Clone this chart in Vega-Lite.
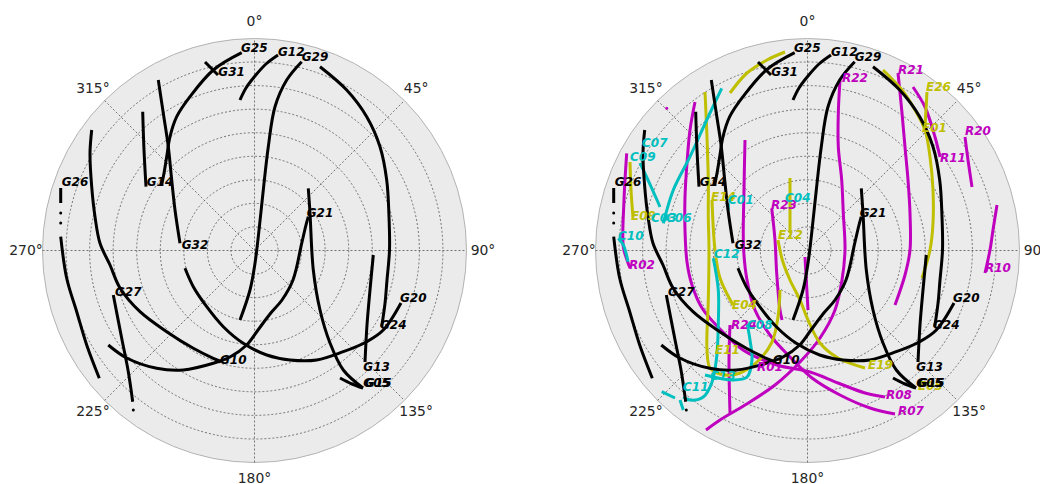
{
"$schema": "https://vega.github.io/schema/vega-lite/v6.json",
"padding": 0,
"background": "white",
"spacing": 44,
"bounds": "flush",
"config": {"view": {"stroke": null}},
"datasets": {
"rings": [{"e":0,"n":0,"r":23.56},{"e":0,"n":0,"r":47.11},{"e":0,"n":0,"r":70.67},{"e":0,"n":0,"r":94.22},{"e":0,"n":0,"r":117.78},{"e":0,"n":0,"r":141.33},{"e":0,"n":0,"r":164.89},{"e":0,"n":0,"r":188.44}],
"disk": [{"e":0,"n":0,"r":212}],
"spokes": [{"e":-212,"n":0,"e2":212,"n2":0},{"e":0,"n":-212,"e2":0,"n2":212},{"e":-149.9,"n":-149.9,"e2":149.9,"n2":149.9},{"e":-149.9,"n":149.9,"e2":149.9,"n2":-149.9}],
"angles": [{"t":"0°","e":0,"n":228.5},{"t":"45°","e":161.6,"n":161.6},{"t":"90°","e":228.5,"n":0},{"t":"135°","e":161.6,"n":-161.6},{"t":"180°","e":0,"n":-228.5},{"t":"225°","e":-161.6,"n":-161.6},{"t":"270°","e":-228.5,"n":0},{"t":"315°","e":-161.6,"n":161.6}],
"tracks": [
{"id":"G31","sys":"G","i":0,"e":-49.5,"n":188.5},{"id":"G31","sys":"G","i":1,"e":-36.5,"n":175.5},
{"id":"G25","sys":"G","i":0,"e":-92.8,"n":65.5},{"id":"G25","sys":"G","i":1,"e":-90.5,"n":77.2},{"id":"G25","sys":"G","i":2,"e":-87.8,"n":93.8},{"id":"G25","sys":"G","i":3,"e":-84.5,"n":113.8},{"id":"G25","sys":"G","i":4,"e":-77.8,"n":133.8},{"id":"G25","sys":"G","i":5,"e":-64.5,"n":153.8},{"id":"G25","sys":"G","i":6,"e":-41.2,"n":180.5},{"id":"G25","sys":"G","i":7,"e":-12.8,"n":197.8},
{"id":"G14","sys":"G","i":0,"e":-111.8,"n":138.8},{"id":"G14","sys":"G","i":1,"e":-110.5,"n":100.5},{"id":"G14","sys":"G","i":2,"e":-108.5,"n":63.8},
{"id":"G32","sys":"G","i":0,"e":-96.2,"n":170.5},{"id":"G32","sys":"G","i":1,"e":-91.2,"n":137.2},{"id":"G32","sys":"G","i":2,"e":-86.2,"n":103.8},{"id":"G32","sys":"G","i":3,"e":-82.8,"n":70.5},{"id":"G32","sys":"G","i":4,"e":-79.5,"n":40.5},{"id":"G32","sys":"G","i":5,"e":-74.5,"n":7.2},
{"id":"G26a","sys":"G","i":0,"e":-193.8,"n":62.5},{"id":"G26a","sys":"G","i":1,"e":-193.8,"n":47.5},
{"id":"G26b","sys":"G","i":0,"e":-193.8,"n":13.8},{"id":"G26b","sys":"G","i":1,"e":-187.8,"n":-27.8},{"id":"G26b","sys":"G","i":2,"e":-177.8,"n":-61.2},{"id":"G26b","sys":"G","i":3,"e":-167.8,"n":-94.5},{"id":"G26b","sys":"G","i":4,"e":-155.2,"n":-127.8},
{"id":"G10","sys":"G","i":0,"e":-162.8,"n":120.5},{"id":"G10","sys":"G","i":1,"e":-164.5,"n":97.2},{"id":"G10","sys":"G","i":2,"e":-162.8,"n":63.8},{"id":"G10","sys":"G","i":3,"e":-159.5,"n":33.8},{"id":"G10","sys":"G","i":4,"e":-154.5,"n":7.2},{"id":"G10","sys":"G","i":5,"e":-144.5,"n":-14.5},{"id":"G10","sys":"G","i":6,"e":-134.5,"n":-37.5},{"id":"G10","sys":"G","i":7,"e":-114.5,"n":-61.2},{"id":"G10","sys":"G","i":8,"e":-87.8,"n":-81.2},{"id":"G10","sys":"G","i":9,"e":-61.2,"n":-97.8},{"id":"G10","sys":"G","i":10,"e":-41.2,"n":-107.8},{"id":"G10","sys":"G","i":11,"e":-32.8,"n":-111.2},
{"id":"G21","sys":"G","i":0,"e":-146.2,"n":-94.5},{"id":"G21","sys":"G","i":1,"e":-127.8,"n":-107.5},{"id":"G21","sys":"G","i":2,"e":-97.8,"n":-117.8},{"id":"G21","sys":"G","i":3,"e":-71.2,"n":-119.5},{"id":"G21","sys":"G","i":4,"e":-41.2,"n":-112.8},{"id":"G21","sys":"G","i":5,"e":-24.5,"n":-106.5},{"id":"G21","sys":"G","i":6,"e":-7.8,"n":-94.5},{"id":"G21","sys":"G","i":7,"e":3.5,"n":-79.5},{"id":"G21","sys":"G","i":8,"e":15.5,"n":-63.5},{"id":"G21","sys":"G","i":9,"e":27.5,"n":-49.5},{"id":"G21","sys":"G","i":10,"e":38.5,"n":-29.5},{"id":"G21","sys":"G","i":11,"e":47.2,"n":7.2},{"id":"G21","sys":"G","i":12,"e":51.5,"n":25.5},{"id":"G21","sys":"G","i":13,"e":53.8,"n":33.8},
{"id":"G27","sys":"G","i":0,"e":-141.2,"n":-44.5},{"id":"G27","sys":"G","i":1,"e":-132.8,"n":-87.8},{"id":"G27","sys":"G","i":2,"e":-126.2,"n":-121.2},{"id":"G27","sys":"G","i":3,"e":-121.8,"n":-151.2},
{"id":"G20","sys":"G","i":0,"e":-69.5,"n":-17.8},{"id":"G20","sys":"G","i":1,"e":-61.2,"n":-36.2},{"id":"G20","sys":"G","i":2,"e":-47.8,"n":-56.2},{"id":"G20","sys":"G","i":3,"e":-31.2,"n":-76.2},{"id":"G20","sys":"G","i":4,"e":-11.2,"n":-92.8},{"id":"G20","sys":"G","i":5,"e":12.2,"n":-104.5},{"id":"G20","sys":"G","i":6,"e":35.5,"n":-109.5},{"id":"G20","sys":"G","i":7,"e":62.2,"n":-109.5},{"id":"G20","sys":"G","i":8,"e":88.8,"n":-101.2},{"id":"G20","sys":"G","i":9,"e":112.2,"n":-91.2},{"id":"G20","sys":"G","i":10,"e":128.8,"n":-79.5},{"id":"G20","sys":"G","i":11,"e":146.5,"n":-52.5},
{"id":"G12","sys":"G","i":0,"e":23.5,"n":195.5},{"id":"G12","sys":"G","i":1,"e":11.5,"n":186.5},{"id":"G12","sys":"G","i":2,"e":0.5,"n":174.5},{"id":"G12","sys":"G","i":3,"e":-8.5,"n":162.5},{"id":"G12","sys":"G","i":4,"e":-14.5,"n":150.5},
{"id":"G29","sys":"G","i":0,"e":47.2,"n":188.8},{"id":"G29","sys":"G","i":1,"e":32.2,"n":170.5},{"id":"G29","sys":"G","i":2,"e":20.5,"n":143.8},{"id":"G29","sys":"G","i":3,"e":13.8,"n":103.8},{"id":"G29","sys":"G","i":4,"e":8.8,"n":60.5},{"id":"G29","sys":"G","i":5,"e":3.8,"n":13.8},{"id":"G29","sys":"G","i":6,"e":0.5,"n":-12.8},{"id":"G29","sys":"G","i":7,"e":-4.5,"n":-39.5},{"id":"G29","sys":"G","i":8,"e":-14.5,"n":-69.5},
{"id":"G24","sys":"G","i":0,"e":65.5,"n":183.8},{"id":"G24","sys":"G","i":1,"e":92.2,"n":160.5},{"id":"G24","sys":"G","i":2,"e":112.2,"n":133.8},{"id":"G24","sys":"G","i":3,"e":125.5,"n":103.8},{"id":"G24","sys":"G","i":4,"e":132.2,"n":70.5},{"id":"G24","sys":"G","i":5,"e":134.5,"n":33.8},{"id":"G24","sys":"G","i":6,"e":135,"n":0.5},{"id":"G24","sys":"G","i":7,"e":132.5,"n":-29.5},{"id":"G24","sys":"G","i":8,"e":130.5,"n":-52.8},{"id":"G24","sys":"G","i":9,"e":127.2,"n":-76.2},
{"id":"G13","sys":"G","i":0,"e":118.8,"n":-4.5},{"id":"G13","sys":"G","i":1,"e":115.5,"n":-39.5},{"id":"G13","sys":"G","i":2,"e":112.5,"n":-74.5},{"id":"G13","sys":"G","i":3,"e":110.5,"n":-111.5},
{"id":"G05","sys":"G","i":0,"e":53.8,"n":62.2},{"id":"G05","sys":"G","i":1,"e":55.5,"n":37.5},{"id":"G05","sys":"G","i":2,"e":58.8,"n":-19.5},{"id":"G05","sys":"G","i":3,"e":65.5,"n":-59.5},{"id":"G05","sys":"G","i":4,"e":75.5,"n":-92.5},{"id":"G05","sys":"G","i":5,"e":88.8,"n":-119.5},{"id":"G05","sys":"G","i":6,"e":108.5,"n":-137.5},
{"id":"G15","sys":"G","i":0,"e":85.5,"n":-127.5},{"id":"G15","sys":"G","i":1,"e":97.5,"n":-133.5},{"id":"G15","sys":"G","i":2,"e":108.5,"n":-137.5},
{"id":"R08","sys":"R","i":0,"e":-112.5,"n":148.5},{"id":"R08","sys":"R","i":1,"e":-117.5,"n":120.5},{"id":"R08","sys":"R","i":2,"e":-120.5,"n":87.5},{"id":"R08","sys":"R","i":3,"e":-122.5,"n":53.5},{"id":"R08","sys":"R","i":4,"e":-122.5,"n":20.5},{"id":"R08","sys":"R","i":5,"e":-120.5,"n":-11.5},{"id":"R08","sys":"R","i":6,"e":-115.5,"n":-34.5},{"id":"R08","sys":"R","i":7,"e":-105.5,"n":-57.5},{"id":"R08","sys":"R","i":8,"e":-89.5,"n":-76.5},{"id":"R08","sys":"R","i":9,"e":-64.5,"n":-99.5},{"id":"R08","sys":"R","i":10,"e":-30.5,"n":-114.5},{"id":"R08","sys":"R","i":11,"e":2.5,"n":-121.5},{"id":"R08","sys":"R","i":12,"e":30.5,"n":-132.5},{"id":"R08","sys":"R","i":13,"e":57.5,"n":-142.5},{"id":"R08","sys":"R","i":14,"e":77.5,"n":-146.5},
{"id":"R07","sys":"R","i":0,"e":-62.5,"n":110.5},{"id":"R07","sys":"R","i":1,"e":-63.5,"n":60.5},{"id":"R07","sys":"R","i":2,"e":-64,"n":3.5},{"id":"R07","sys":"R","i":3,"e":-60.5,"n":-29.5},{"id":"R07","sys":"R","i":4,"e":-52.5,"n":-59.5},{"id":"R07","sys":"R","i":5,"e":-37.5,"n":-84.5},{"id":"R07","sys":"R","i":6,"e":-17.5,"n":-106.5},{"id":"R07","sys":"R","i":7,"e":4.5,"n":-127.5},{"id":"R07","sys":"R","i":8,"e":32.5,"n":-144.5},{"id":"R07","sys":"R","i":9,"e":62.5,"n":-157.5},{"id":"R07","sys":"R","i":10,"e":87.5,"n":-163.5},
{"id":"R02","sys":"R","i":0,"e":-180.8,"n":97.2},{"id":"R02","sys":"R","i":1,"e":-183.5,"n":50.5},{"id":"R02","sys":"R","i":2,"e":-184.2,"n":3.8},{"id":"R02","sys":"R","i":3,"e":-180.5,"n":-9.5},{"id":"R02","sys":"R","i":4,"e":-177.5,"n":-17.5},
{"id":"R22","sys":"R","i":0,"e":32.5,"n":170.5},{"id":"R22","sys":"R","i":1,"e":30.8,"n":137.2},{"id":"R22","sys":"R","i":2,"e":30.8,"n":103.8},{"id":"R22","sys":"R","i":3,"e":34.2,"n":70.5},{"id":"R22","sys":"R","i":4,"e":35.8,"n":37.2},{"id":"R22","sys":"R","i":5,"e":37.5,"n":0.5},{"id":"R22","sys":"R","i":6,"e":34.5,"n":-29.5},{"id":"R22","sys":"R","i":7,"e":27.5,"n":-59.5},{"id":"R22","sys":"R","i":8,"e":12.5,"n":-87.5},{"id":"R22","sys":"R","i":9,"e":-7.5,"n":-111.5},{"id":"R22","sys":"R","i":10,"e":-32.5,"n":-134.5},{"id":"R22","sys":"R","i":11,"e":-62.5,"n":-154.5},{"id":"R22","sys":"R","i":12,"e":-87.5,"n":-169.5},{"id":"R22","sys":"R","i":13,"e":-101.5,"n":-179.5},
{"id":"R21","sys":"R","i":0,"e":90.5,"n":177.5},{"id":"R21","sys":"R","i":1,"e":94.5,"n":137.5},{"id":"R21","sys":"R","i":2,"e":97.5,"n":103.5},{"id":"R21","sys":"R","i":3,"e":100.5,"n":70.5},{"id":"R21","sys":"R","i":4,"e":102.5,"n":37.5},{"id":"R21","sys":"R","i":5,"e":102.5,"n":0.5},{"id":"R21","sys":"R","i":6,"e":97.5,"n":-24.5},{"id":"R21","sys":"R","i":7,"e":87.5,"n":-54.5},
{"id":"R11","sys":"R","i":0,"e":105.5,"n":163.5},{"id":"R11","sys":"R","i":1,"e":117.5,"n":143.5},{"id":"R11","sys":"R","i":2,"e":127.5,"n":113.5},{"id":"R11","sys":"R","i":3,"e":132.5,"n":93.5},
{"id":"R20","sys":"R","i":0,"e":157.5,"n":113.5},{"id":"R20","sys":"R","i":1,"e":160.5,"n":90.5},{"id":"R20","sys":"R","i":2,"e":164.5,"n":63.5},
{"id":"R10","sys":"R","i":0,"e":189.5,"n":45.5},{"id":"R10","sys":"R","i":1,"e":185.5,"n":20.5},{"id":"R10","sys":"R","i":2,"e":182.5,"n":0.5},{"id":"R10","sys":"R","i":3,"e":177.5,"n":-22.5},
{"id":"R23","sys":"R","i":0,"e":-35.8,"n":42.2},{"id":"R23","sys":"R","i":1,"e":-32.5,"n":10.5},{"id":"R23","sys":"R","i":2,"e":-30.8,"n":-22.8},{"id":"R23","sys":"R","i":3,"e":-27.5,"n":-59.5},{"id":"R23","sys":"R","i":4,"e":-25.5,"n":-69.5},
{"id":"R01","sys":"R","i":0,"e":-2.5,"n":-6.5},{"id":"R01","sys":"R","i":1,"e":0.5,"n":-59.5},
{"id":"R24","sys":"R","i":0,"e":-77.5,"n":-74.5},{"id":"R24","sys":"R","i":1,"e":-78.5,"n":-109.5},{"id":"R24","sys":"R","i":2,"e":-77.5,"n":-162.5},
{"id":"E33","sys":"E","i":0,"e":-77.5,"n":157.5},{"id":"E33","sys":"E","i":1,"e":-60.5,"n":177.5},{"id":"E33","sys":"E","i":2,"e":-40.5,"n":190.5},{"id":"E33","sys":"E","i":3,"e":-22.5,"n":198.5},
{"id":"E09","sys":"E","i":0,"e":-177.5,"n":88.5},{"id":"E09","sys":"E","i":1,"e":-176.5,"n":60.5},{"id":"E09","sys":"E","i":2,"e":-174.5,"n":33.5},
{"id":"E14","sys":"E","i":0,"e":-102.5,"n":158.5},{"id":"E14","sys":"E","i":1,"e":-100.8,"n":120.5},{"id":"E14","sys":"E","i":2,"e":-99.2,"n":70.5},{"id":"E14","sys":"E","i":3,"e":-99.2,"n":33.5},{"id":"E14","sys":"E","i":4,"e":-98.5,"n":0.5},{"id":"E14","sys":"E","i":5,"e":-99.2,"n":-49.5},{"id":"E14","sys":"E","i":6,"e":-100.5,"n":-99.5},{"id":"E14","sys":"E","i":7,"e":-97.5,"n":-117.5},{"id":"E14","sys":"E","i":8,"e":-87.5,"n":-123.5},{"id":"E14","sys":"E","i":9,"e":-70.5,"n":-123.5},{"id":"E14","sys":"E","i":10,"e":-50.5,"n":-111.5},{"id":"E14","sys":"E","i":11,"e":-35.5,"n":-91.5},{"id":"E14","sys":"E","i":12,"e":-29.5,"n":-66.5},{"id":"E14","sys":"E","i":13,"e":-27.5,"n":-39.5},
{"id":"E12","sys":"E","i":0,"e":-17.5,"n":72.5},{"id":"E12","sys":"E","i":1,"e":-17.5,"n":17.5},
{"id":"E04","sys":"E","i":0,"e":-95.5,"n":50.5},{"id":"E04","sys":"E","i":1,"e":-92.5,"n":0.5},{"id":"E04","sys":"E","i":2,"e":-87.5,"n":-27.5},{"id":"E04","sys":"E","i":3,"e":-74.5,"n":-54.5},
{"id":"E19","sys":"E","i":0,"e":-29.5,"n":10.5},{"id":"E19","sys":"E","i":1,"e":-25,"n":-10},{"id":"E19","sys":"E","i":2,"e":-17.5,"n":-29.5},{"id":"E19","sys":"E","i":3,"e":-7.5,"n":-49.5},{"id":"E19","sys":"E","i":4,"e":0.5,"n":-69.5},{"id":"E19","sys":"E","i":5,"e":12.5,"n":-92.5},{"id":"E19","sys":"E","i":6,"e":30.5,"n":-107.5},{"id":"E19","sys":"E","i":7,"e":57.5,"n":-117.5},
{"id":"E01","sys":"E","i":0,"e":75.5,"n":180.5},{"id":"E01","sys":"E","i":1,"e":94.5,"n":160.5},{"id":"E01","sys":"E","i":2,"e":107.5,"n":140.5},{"id":"E01","sys":"E","i":3,"e":117.5,"n":120.5},{"id":"E01","sys":"E","i":4,"e":122.5,"n":93.5},{"id":"E01","sys":"E","i":5,"e":125.5,"n":60.5},{"id":"E01","sys":"E","i":6,"e":125.5,"n":27.5},{"id":"E01","sys":"E","i":7,"e":122.5,"n":0.5},{"id":"E01","sys":"E","i":8,"e":114.5,"n":-27.5},
{"id":"E26","sys":"E","i":0,"e":119.5,"n":158.5},{"id":"E26","sys":"E","i":1,"e":117.5,"n":123.5},
{"id":"C07","sys":"C","i":0,"e":-167.5,"n":87.5},{"id":"C07","sys":"C","i":1,"e":-159.5,"n":70.5},{"id":"C07","sys":"C","i":2,"e":-150.5,"n":50.5},{"id":"C07","sys":"C","i":3,"e":-147.5,"n":43.5},
{"id":"C06","sys":"C","i":0,"e":-85.8,"n":162.2},{"id":"C06","sys":"C","i":1,"e":-100.8,"n":130.5},{"id":"C06","sys":"C","i":2,"e":-117.5,"n":93.8},{"id":"C06","sys":"C","i":3,"e":-134.2,"n":60.5},{"id":"C06","sys":"C","i":4,"e":-144.2,"n":27.2},
{"id":"C01","sys":"C","i":0,"e":-79.2,"n":47.2},{"id":"C01","sys":"C","i":1,"e":-79.2,"n":40.5},
{"id":"C10","sys":"C","i":0,"e":-189.2,"n":12.2},{"id":"C10","sys":"C","i":1,"e":-184.2,"n":5.5},{"id":"C10","sys":"C","i":2,"e":-179.5,"n":-11.2},
{"id":"C12","sys":"C","i":0,"e":-94.2,"n":-7.8},{"id":"C12","sys":"C","i":1,"e":-89.2,"n":-39.5},{"id":"C12","sys":"C","i":2,"e":-89.2,"n":-72.5},{"id":"C12","sys":"C","i":3,"e":-90.8,"n":-106.5},{"id":"C12","sys":"C","i":4,"e":-95.8,"n":-132.5},{"id":"C12","sys":"C","i":5,"e":-104.2,"n":-146.5},{"id":"C12","sys":"C","i":6,"e":-117.5,"n":-149.5},{"id":"C12","sys":"C","i":7,"e":-124.2,"n":-146.5},
{"id":"C11a","sys":"C","i":0,"e":-145.8,"n":-141.2},{"id":"C11a","sys":"C","i":1,"e":-132.5,"n":-147.5},
{"id":"C11b","sys":"C","i":0,"e":-127.5,"n":-149.5},{"id":"C11b","sys":"C","i":1,"e":-124.2,"n":-159.5},
{"id":"C08","sys":"C","i":0,"e":-60.5,"n":-72.5},{"id":"C08","sys":"C","i":1,"e":-57.5,"n":-89.5},{"id":"C08","sys":"C","i":2,"e":-55.5,"n":-109.5},{"id":"C08","sys":"C","i":3,"e":-60.5,"n":-126.5},{"id":"C08","sys":"C","i":4,"e":-74.5,"n":-129.5},{"id":"C08","sys":"C","i":5,"e":-102.5,"n":-124.5}
],
"dots": [{"sys":"G","e":-193.8,"n":37.5},{"sys":"G","e":-193.8,"n":27.5},{"sys":"G","e":-121.2,"n":-159.5},{"sys":"R","e":-140.8,"n":142.2}],
"labels": [
{"name":"G25","sys":"G","e":-13.5,"n":202.5},{"name":"G12","sys":"G","e":23.5,"n":198.8},{"name":"G29","sys":"G","e":47.2,"n":193.8},{"name":"G31","sys":"G","e":-36.2,"n":178.8},{"name":"G26","sys":"G","e":-192.8,"n":68.8},{"name":"G14","sys":"G","e":-107.8,"n":68.8},{"name":"G21","sys":"G","e":52.2,"n":37.2},{"name":"G32","sys":"G","e":-72.8,"n":5.5},{"name":"G27","sys":"G","e":-139.5,"n":-41.2},{"name":"G20","sys":"G","e":145.5,"n":-47.8},{"name":"G24","sys":"G","e":125.5,"n":-74.5},{"name":"G10","sys":"G","e":-34.5,"n":-109.5},{"name":"G13","sys":"G","e":108.8,"n":-116.2},{"name":"G05","sys":"G","e":108.8,"n":-132.8},{"name":"G15","sys":"G","e":110.5,"n":-132.8},
{"name":"C07","sys":"C","e":-165.5,"n":107.5},{"name":"C09","sys":"C","e":-177.5,"n":93.5},{"name":"E09","sys":"E","e":-176.5,"n":34.5},{"name":"C03","sys":"C","e":-156.5,"n":32.5},{"name":"C06","sys":"C","e":-141.5,"n":32.5},{"name":"E14","sys":"E","e":-96.5,"n":53.5},{"name":"C01","sys":"C","e":-79.5,"n":50.5},{"name":"R23","sys":"R","e":-36.5,"n":45.5},{"name":"C04","sys":"C","e":-22.5,"n":52.5},{"name":"E12","sys":"E","e":-29.5,"n":15.5},{"name":"C10","sys":"C","e":-189.5,"n":14.5},{"name":"R02","sys":"R","e":-178.5,"n":-14.5},{"name":"C12","sys":"C","e":-93.5,"n":-3.5},{"name":"E04","sys":"E","e":-75.5,"n":-54.5},{"name":"R24","sys":"R","e":-76.5,"n":-74.5},{"name":"C08","sys":"C","e":-60.5,"n":-74.5},{"name":"E11","sys":"E","e":-92.5,"n":-99.5},{"name":"R01","sys":"R","e":-50.5,"n":-116.5},{"name":"C13","sys":"C","e":-97.5,"n":-125.5},{"name":"C11","sys":"C","e":-124.5,"n":-136.5},{"name":"E19","sys":"E","e":60.5,"n":-114.5},{"name":"R08","sys":"R","e":78.5,"n":-144.5},{"name":"R07","sys":"R","e":90.5,"n":-160.5},{"name":"R22","sys":"R","e":34.5,"n":172.5},{"name":"R21","sys":"R","e":90.5,"n":180.5},{"name":"E26","sys":"E","e":118.5,"n":163.5},{"name":"E01","sys":"E","e":114.5,"n":122.5},{"name":"R20","sys":"R","e":157.5,"n":119.5},{"name":"R11","sys":"R","e":132.5,"n":92.5},{"name":"R10","sys":"R","e":177.5,"n":-17.5},{"name":"E05","sys":"E","e":110.5,"n":-135.5}
]
},
"hconcat": [
{
"width": 509, "height": 484,
"encoding": {
 "x": {"field":"e","type":"quantitative","scale":{"domain":[-254.5,254.5],"nice":false,"zero":false},"axis":null},
 "y": {"field":"n","type":"quantitative","scale":{"domain":[-233.5,250.5],"nice":false,"zero":false},"axis":null}
},
"layer": [
 {"data":{"name":"disk"},"mark":{"type":"point","shape":"circle","filled":true,"fill":"#ebebeb","stroke":"#b3b3b3","strokeWidth":1,"opacity":1,"fillOpacity":1},
  "encoding":{"size":{"field":"r","type":"quantitative","scale":{"type":"pow","exponent":2,"domain":[0,212],"range":[0,179776]},"legend":null}}},
 {"data":{"name":"rings"},"mark":{"type":"point","shape":"circle","filled":false,"color":"#555555","strokeWidth":0.8,"strokeDash":[2,2],"opacity":1},
  "encoding":{"size":{"field":"r","type":"quantitative","scale":{"type":"pow","exponent":2,"domain":[0,212],"range":[0,179776]},"legend":null}}},
 {"data":{"name":"spokes"},"mark":{"type":"rule","color":"#555555","strokeWidth":0.8,"strokeDash":[2,2]},
  "encoding":{"x2":{"field":"e2"},"y2":{"field":"n2"}}},
 {"data":{"name":"tracks"},"transform":[{"filter":"datum.sys === 'G'"}],"mark":{"type":"line","strokeWidth":3,"strokeCap":"butt","interpolate":"catmull-rom"},
  "encoding":{"detail":{"field":"id","type":"nominal"},"order":{"field":"i","type":"quantitative"},
   "color":{"field":"sys","type":"nominal","scale":{"domain":["G","R","E","C"],"range":["#000000","#bf00bf","#bfbf00","#00bfbf"]},"legend":null}}},
 {"data":{"name":"dots"},"transform":[{"filter":"datum.sys === 'G'"}],"mark":{"type":"point","shape":"circle","filled":true,"size":9,"opacity":1},
  "encoding":{"color":{"field":"sys","type":"nominal","scale":{"domain":["G","R","E","C"],"range":["#000000","#bf00bf","#bfbf00","#00bfbf"]},"legend":null}}},
 {"data":{"name":"labels"},"transform":[{"filter":"datum.sys === 'G'"}],"mark":{"type":"text","align":"left","baseline":"middle","font":"DejaVu Sans","fontSize":12,"fontStyle":"italic","fontWeight":"bold"},
  "encoding":{"text":{"field":"name"},"color":{"field":"sys","type":"nominal","scale":{"domain":["G","R","E","C"],"range":["#000000","#bf00bf","#bfbf00","#00bfbf"]},"legend":null}}},
 {"data":{"name":"angles"},"mark":{"type":"text","align":"center","baseline":"middle","font":"DejaVu Sans","fontSize":13.9,"color":"#262626"},
  "encoding":{"text":{"field":"t"}}}
]
},
{
"width": 487, "height": 484,
"encoding": {
 "x": {"field":"e","type":"quantitative","scale":{"domain":[-254.5,232.5],"nice":false,"zero":false},"axis":null},
 "y": {"field":"n","type":"quantitative","scale":{"domain":[-233.5,250.5],"nice":false,"zero":false},"axis":null}
},
"layer": [
 {"data":{"name":"disk"},"mark":{"type":"point","shape":"circle","filled":true,"fill":"#ebebeb","stroke":"#b3b3b3","strokeWidth":1,"opacity":1,"fillOpacity":1},
  "encoding":{"size":{"field":"r","type":"quantitative","scale":{"type":"pow","exponent":2,"domain":[0,212],"range":[0,179776]},"legend":null}}},
 {"data":{"name":"rings"},"mark":{"type":"point","shape":"circle","filled":false,"color":"#555555","strokeWidth":0.8,"strokeDash":[2,2],"opacity":1},
  "encoding":{"size":{"field":"r","type":"quantitative","scale":{"type":"pow","exponent":2,"domain":[0,212],"range":[0,179776]},"legend":null}}},
 {"data":{"name":"spokes"},"mark":{"type":"rule","color":"#555555","strokeWidth":0.8,"strokeDash":[2,2]},
  "encoding":{"x2":{"field":"e2"},"y2":{"field":"n2"}}},
 {"data":{"name":"tracks"},"transform":[{"filter":"datum.sys !== 'G'"}],"mark":{"type":"line","strokeWidth":3,"strokeCap":"butt","interpolate":"catmull-rom"},
  "encoding":{"detail":{"field":"id","type":"nominal"},"order":{"field":"i","type":"quantitative"},
   "color":{"field":"sys","type":"nominal","scale":{"domain":["G","R","E","C"],"range":["#000000","#bf00bf","#bfbf00","#00bfbf"]},"legend":null}}},
 {"data":{"name":"tracks"},"transform":[{"filter":"datum.sys === 'G'"}],"mark":{"type":"line","strokeWidth":3,"strokeCap":"butt","interpolate":"catmull-rom"},
  "encoding":{"detail":{"field":"id","type":"nominal"},"order":{"field":"i","type":"quantitative"},
   "color":{"field":"sys","type":"nominal","scale":{"domain":["G","R","E","C"],"range":["#000000","#bf00bf","#bfbf00","#00bfbf"]},"legend":null}}},
 {"data":{"name":"dots"},"mark":{"type":"point","shape":"circle","filled":true,"size":9,"opacity":1},
  "encoding":{"color":{"field":"sys","type":"nominal","scale":{"domain":["G","R","E","C"],"range":["#000000","#bf00bf","#bfbf00","#00bfbf"]},"legend":null}}},
 {"data":{"name":"labels"},"transform":[{"filter":"datum.sys !== 'G'"}],"mark":{"type":"text","align":"left","baseline":"middle","font":"DejaVu Sans","fontSize":12,"fontStyle":"italic","fontWeight":"bold"},
  "encoding":{"text":{"field":"name"},"color":{"field":"sys","type":"nominal","scale":{"domain":["G","R","E","C"],"range":["#000000","#bf00bf","#bfbf00","#00bfbf"]},"legend":null}}},
 {"data":{"name":"labels"},"transform":[{"filter":"datum.sys === 'G'"}],"mark":{"type":"text","align":"left","baseline":"middle","font":"DejaVu Sans","fontSize":12,"fontStyle":"italic","fontWeight":"bold"},
  "encoding":{"text":{"field":"name"},"color":{"field":"sys","type":"nominal","scale":{"domain":["G","R","E","C"],"range":["#000000","#bf00bf","#bfbf00","#00bfbf"]},"legend":null}}},
 {"data":{"name":"angles"},"mark":{"type":"text","align":"center","baseline":"middle","font":"DejaVu Sans","fontSize":13.9,"color":"#262626","clip":true},
  "encoding":{"text":{"field":"t"}}}
]
}
]
}
